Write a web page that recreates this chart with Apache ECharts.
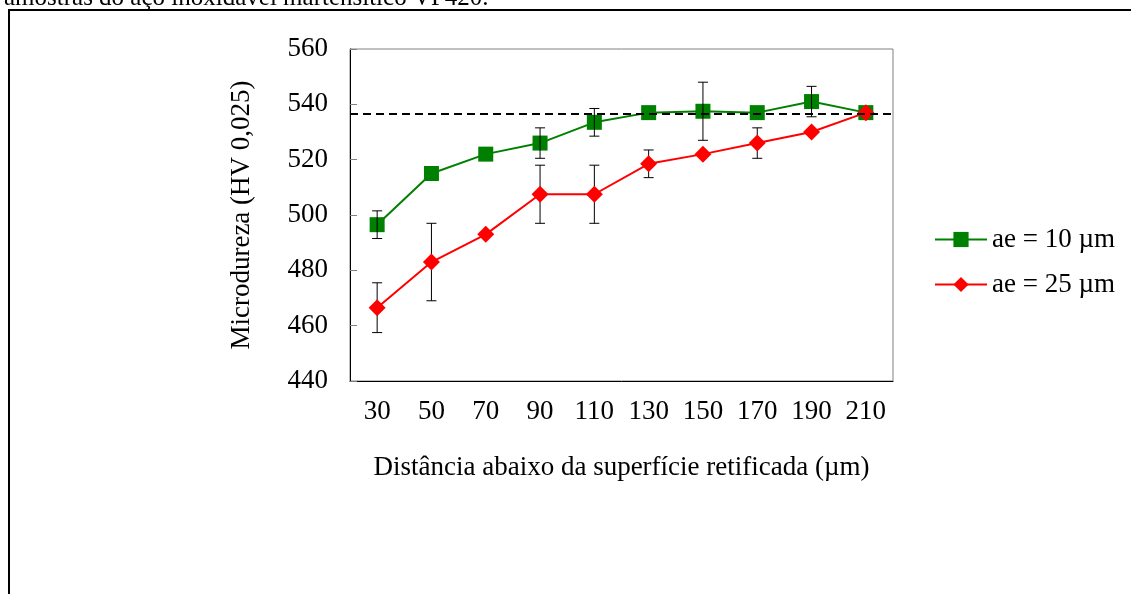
<!DOCTYPE html>
<html>
<head>
<meta charset="utf-8">
<script src="https://cdn.jsdelivr.net/npm/echarts@6/dist/echarts.min.js"></script>
<style>
html,body{margin:0;padding:0;background:#fff;}
#chart{width:1131px;height:594px;}
</style>
</head>
<body>
<div id="chart"></div>
<script>
var categories = ['30','50','70','90','110','130','150','170','190','210'];
var seriesNames = ['ae = 10 µm', 'ae = 25 µm'];
var green = [496.5, 515, 522, 526, 533.5, 537, 537.5, 537, 541, 537];
var red = [466.5, 483, 493, 507.5, 507.5, 518.5, 522, 526, 530, 537];
var greenErrLow = [491.5, null, null, 520.5, 528.5, null, 527, null, 535.5, null];
var greenErrHigh = [501.5, null, null, 531.5, 538.5, null, 548, null, 546.5, null];
var redErrLow = [457.5, 469, null, 497, 497, 513.5, null, 520.5, null, null];
var redErrHigh = [475.5, 497, null, 518, 518, 523.5, null, 531.5, null, null];
var referenceLine = 536.5;
var yTicks = {min: 440, max: 560, interval: 20};
var xTitle = 'Distância abaixo da superfície retificada (µm)';
var yTitle = 'Microdureza (HV 0,025)';
var topText = 'amostras do aço inoxidável martensítico VP420.';

var FONT = "'Liberation Serif', 'Times New Roman', serif";

function errData(lo, hi) {
  var out = [];
  for (var i = 0; i < categories.length; i++) {
    if (lo[i] != null && hi[i] != null) out.push([i, lo[i], hi[i]]);
  }
  return out;
}

function errRender(params, api) {
  var x = api.value(0);
  var lo = api.coord([x, api.value(1)]);
  var hi = api.coord([x, api.value(2)]);
  var half = 5;
  var style = {stroke: '#000', lineWidth: 1, fill: null};
  return {
    type: 'group',
    children: [
      {type: 'line', shape: {x1: lo[0], y1: lo[1], x2: hi[0], y2: hi[1]}, style: style},
      {type: 'line', shape: {x1: lo[0] - half, y1: lo[1], x2: lo[0] + half, y2: lo[1]}, style: style},
      {type: 'line', shape: {x1: hi[0] - half, y1: hi[1], x2: hi[0] + half, y2: hi[1]}, style: style}
    ]
  };
}

var chart = echarts.init(document.getElementById('chart'), null, {renderer: 'canvas'});
chart.setOption({
  animation: false,
  backgroundColor: '#fff',
  textStyle: {fontFamily: FONT},
  graphic: [
    {type: 'rect', shape: {x: 9, y: 10, width: 1200, height: 700},
     style: {fill: null, stroke: '#000', lineWidth: 2}, z: 0},
    {type: 'text', x: 4, y: 11, style: {text: topText, font: '25px ' + FONT, fill: '#000', verticalAlign: 'bottom'}, z: 1}
  ],
  grid: {left: 350, right: 238, top: 49, bottom: 213, show: true, borderColor: '#808080', borderWidth: 1, backgroundColor: 'transparent'},
  legend: {
    orient: 'vertical', left: 929, top: 221,
    itemWidth: 52, itemHeight: 19, itemGap: 18,
    textStyle: {fontFamily: FONT, fontSize: 27, color: '#000'},
    data: seriesNames
  },
  xAxis: {
    type: 'category', data: categories, boundaryGap: true,
    axisLine: {lineStyle: {color: '#000', width: 1}},
    axisTick: {inside: true, alignWithLabel: true, length: 6, lineStyle: {color: '#000'}},
    axisLabel: {fontFamily: FONT, fontSize: 27, color: '#000', margin: 17},
    name: xTitle, nameLocation: 'middle', nameGap: 73,
    nameTextStyle: {fontFamily: FONT, fontSize: 27, color: '#000'}
  },
  yAxis: {
    type: 'value', min: yTicks.min, max: yTicks.max, interval: yTicks.interval,
    axisLine: {show: true, lineStyle: {color: '#000', width: 1}},
    axisTick: {show: true, inside: true, length: 7, lineStyle: {color: '#808080'}},
    splitLine: {show: false},
    axisLabel: {fontFamily: FONT, fontSize: 27, color: '#000', margin: 22},
    name: yTitle, nameLocation: 'middle', nameGap: 95, nameRotate: 90,
    nameTextStyle: {fontFamily: FONT, fontSize: 27, color: '#000'}
  },
  series: [
    {type: 'custom', name: 'errG', renderItem: errRender, data: errData(greenErrLow, greenErrHigh), z: 3, silent: true},
    {type: 'custom', name: 'errR', renderItem: errRender, data: errData(redErrLow, redErrHigh), z: 3, silent: true},
    {
      type: 'line', name: seriesNames[0], data: green,
      symbol: 'rect', symbolSize: 15,
      lineStyle: {color: '#008000', width: 2},
      itemStyle: {color: '#008000'}, z: 2,
      markLine: {
        silent: true, symbol: 'none', label: {show: false},
        lineStyle: {color: '#000', width: 2, type: [8, 5]},
        data: [{yAxis: referenceLine}]
      }
    },
    {
      type: 'line', name: seriesNames[1], data: red,
      symbol: 'diamond', symbolSize: 17,
      lineStyle: {color: '#ff0000', width: 2},
      itemStyle: {color: '#ff0000'}, z: 4
    }
  ]
});
</script>
</body>
</html>
